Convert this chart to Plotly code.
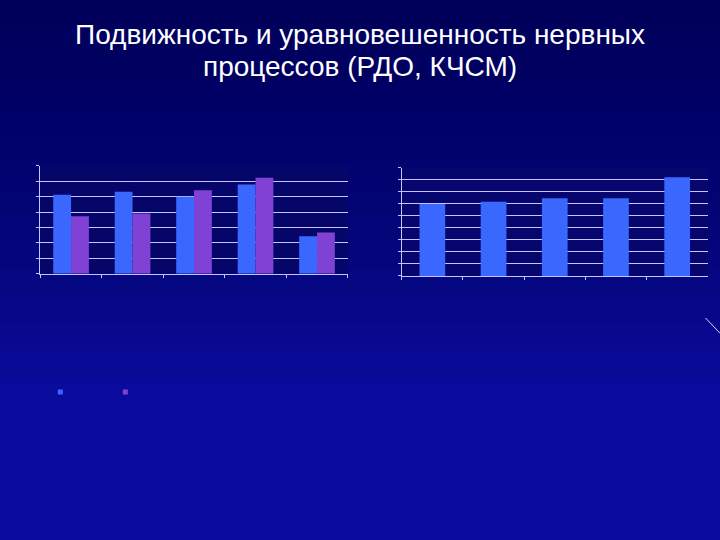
import plotly.graph_objects as go

# left chart: two series per group (РДО)
groups = ["1", "2", "3", "4", "5"]
series_a = [5.13, 5.32, 5.0, 5.78, 2.44]
series_b = [3.73, 3.9, 5.41, 6.23, 2.67]

# right chart: single series (КЧСМ)
right_groups = ["1", "2", "3", "4", "5"]
right_vals = [6.0, 6.19, 6.47, 6.47, 8.22]

title_line1 = "Подвижность и уравновешенность нервных"
title_line2 = "процессов (РДО, КЧСМ)"

blue = "#3a68ff"
purple = "#8042d4"
grid = "#c4c4ff"

fig = go.Figure()

fig.add_trace(go.Bar(x=groups, y=series_a, marker=dict(color=blue, line_width=0),
                     xaxis="x", yaxis="y", showlegend=False))
fig.add_trace(go.Bar(x=groups, y=series_b, marker=dict(color=purple, line_width=0),
                     xaxis="x", yaxis="y", showlegend=False))
fig.add_trace(go.Bar(x=right_groups, y=right_vals, marker=dict(color=blue, line_width=0),
                     xaxis="x2", yaxis="y2", showlegend=False, width=0.42))

# tiny legend squares, the legend text is not visible on the slide
fig.add_trace(go.Scatter(x=[None], y=[None], mode="markers", name=" ",
                         marker=dict(symbol="square", size=5, color=blue)))
fig.add_trace(go.Scatter(x=[None], y=[None], mode="markers", name=" ",
                         marker=dict(symbol="square", size=5, color=purple)))

xax = dict(showgrid=False, showline=True, linecolor=grid, linewidth=1,
           ticks="outside", tickson="boundaries", ticklen=3, tickcolor=grid,
           showticklabels=False)
yax = dict(showgrid=True, gridcolor=grid, gridwidth=1, showline=True, linecolor=grid,
           ticks="outside", ticklen=3, tickcolor=grid, showticklabels=False,
           zeroline=False)

# soft darkening toward the top of the slide (stacked faint layers)
bg_shapes = []
for i in range(14):
    bg_shapes.append(dict(type="rect", xref="paper", yref="paper", x0=0, x1=1,
                          y0=1 - 0.05 * (i + 1), y1=1,
                          fillcolor="rgba(6,6,50,0.06)", line_width=0, layer="below"))
bg_shapes += [
    dict(type="rect", xref="x domain", yref="y domain", x0=0, x1=1, y0=0, y1=1,
         fillcolor="#06066a", line_width=0, layer="below"),
    dict(type="rect", xref="x2 domain", yref="y2 domain", x0=0, x1=1, y0=0, y1=1,
         fillcolor="#06066e", line_width=0, layer="below"),
    dict(type="line", xref="paper", yref="paper", x0=0.98, y0=0.411,
         x1=1.0, y1=0.383, line=dict(color="#d8d8ff", width=1)),
]

fig.update_layout(
    width=720, height=540,
    margin=dict(l=0, r=0, t=0, b=0),
    paper_bgcolor="#0a0b9c",
    plot_bgcolor="rgba(0,0,0,0)",
    barmode="group", bargap=0.42, bargroupgap=0,
    font=dict(family="Liberation Sans, Arial", color="white"),
    xaxis=dict(xax, domain=[0.056, 0.483], anchor="y"),
    yaxis=dict(yax, domain=[0.493, 0.693], range=[0, 7], dtick=1, anchor="x"),
    xaxis2=dict(xax, domain=[0.558, 0.983], anchor="y2"),
    yaxis2=dict(yax, domain=[0.489, 0.689], range=[0, 9], dtick=1, anchor="x2"),
    legend=dict(orientation="h", x=0.056, y=0.274, xanchor="left", yanchor="middle",
                entrywidth=20, entrywidthmode="pixels", bgcolor="rgba(0,0,0,0)",
                font=dict(size=10, color="white"), itemwidth=30),
    shapes=bg_shapes,
    annotations=[
        dict(text=title_line1, xref="paper", yref="paper", x=0.5, y=1 - 34 / 540,
             xanchor="center", yanchor="middle", showarrow=False,
             font=dict(size=28, color="white")),
        dict(text=title_line2, xref="paper", yref="paper", x=0.5, y=1 - 66 / 540,
             xanchor="center", yanchor="middle", showarrow=False,
             font=dict(size=28, color="white")),
    ],
)

fig.write_html("out.html", config={"displayModeBar": False},
               post_script="document.body.style.margin='0';")
